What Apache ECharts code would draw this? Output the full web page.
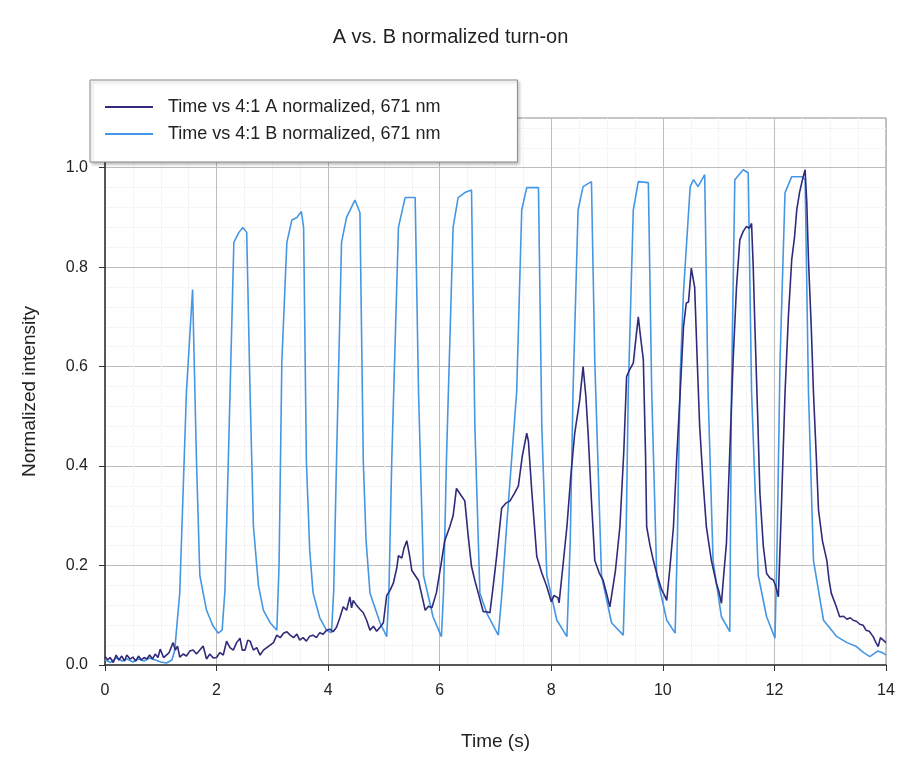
<!DOCTYPE html>
<html>
<head>
<meta charset="utf-8">
<script src="https://cdn.jsdelivr.net/npm/echarts@6/dist/echarts.min.js"></script>
<style>
html,body{margin:0;padding:0;background:#fff;}
#chart{width:901px;height:758px;}
</style>
</head>
<body>
<div id="chart"></div>
<script>
const chartTitle = "A vs. B normalized turn-on";
const seriesNames = ["Time vs 4:1 A normalized, 671 nm", "Time vs 4:1 B normalized, 671 nm"];
const xTicks = [0, 2, 4, 6, 8, 10, 12, 14];
const yTicks = [0, 0.2, 0.4, 0.6, 0.8, 1.0];

const aTime = [0.00,0.05,0.09,0.15,0.20,0.25,0.30,0.35,0.39,0.45,0.50,0.55,0.60,0.65,0.70,0.75,0.80,0.85,0.90,0.95,0.99,1.05,1.10,1.15,1.22,1.26,1.30,1.34,1.40,1.46,1.52,1.58,1.64,1.70,1.76,1.82,1.88,1.94,2.00,2.06,2.12,2.18,2.24,2.30,2.36,2.42,2.46,2.51,2.56,2.60,2.66,2.72,2.78,2.84,2.90,2.96,3.02,3.08,3.14,3.20,3.26,3.32,3.38,3.44,3.49,3.55,3.61,3.67,3.73,3.79,3.85,3.91,3.97,4.03,4.09,4.15,4.21,4.27,4.33,4.39,4.42,4.45,4.51,4.57,4.63,4.69,4.75,4.81,4.87,4.93,4.99,5.05,5.11,5.17,5.23,5.26,5.32,5.36,5.41,5.46,5.50,5.56,5.62,5.68,5.74,5.80,5.86,5.94,6.02,6.09,6.18,6.24,6.30,6.36,6.45,6.51,6.57,6.63,6.69,6.78,6.84,6.90,6.96,7.02,7.11,7.18,7.26,7.34,7.41,7.48,7.56,7.59,7.65,7.74,7.83,7.92,8.00,8.05,8.12,8.14,8.20,8.28,8.35,8.42,8.51,8.57,8.62,8.66,8.72,8.78,8.86,8.93,9.00,9.05,9.08,9.15,9.23,9.30,9.35,9.41,9.47,9.52,9.56,9.60,9.65,9.69,9.71,9.77,9.83,9.90,9.98,10.03,10.07,10.13,10.19,10.25,10.31,10.37,10.42,10.46,10.51,10.57,10.62,10.66,10.72,10.78,10.87,10.96,11.00,11.05,11.09,11.14,11.20,11.26,11.32,11.38,11.44,11.50,11.55,11.59,11.62,11.65,11.70,11.74,11.80,11.86,11.92,11.98,12.02,12.07,12.12,12.19,12.25,12.31,12.36,12.40,12.45,12.50,12.55,12.58,12.61,12.66,12.70,12.75,12.79,12.86,12.94,12.98,13.02,13.05,13.10,13.17,13.24,13.30,13.36,13.41,13.47,13.53,13.59,13.64,13.70,13.77,13.82,13.86,13.90,13.95,14.00];
const aValue = [0.017,0.010,0.015,0.005,0.020,0.010,0.018,0.008,0.020,0.012,0.016,0.008,0.018,0.010,0.015,0.012,0.020,0.012,0.022,0.015,0.032,0.015,0.020,0.025,0.045,0.030,0.038,0.016,0.022,0.018,0.028,0.030,0.022,0.030,0.038,0.012,0.022,0.014,0.015,0.025,0.020,0.048,0.035,0.030,0.045,0.054,0.030,0.030,0.050,0.048,0.030,0.035,0.020,0.030,0.035,0.040,0.045,0.060,0.055,0.064,0.067,0.060,0.055,0.062,0.050,0.055,0.048,0.058,0.060,0.055,0.065,0.062,0.070,0.072,0.067,0.076,0.095,0.117,0.110,0.137,0.115,0.130,0.120,0.112,0.105,0.090,0.070,0.078,0.068,0.076,0.085,0.140,0.150,0.165,0.195,0.220,0.215,0.235,0.250,0.220,0.190,0.180,0.170,0.140,0.110,0.118,0.115,0.145,0.200,0.250,0.278,0.300,0.355,0.345,0.330,0.260,0.198,0.170,0.145,0.107,0.107,0.105,0.160,0.218,0.315,0.325,0.330,0.345,0.360,0.420,0.466,0.450,0.350,0.218,0.185,0.158,0.127,0.140,0.135,0.125,0.190,0.278,0.380,0.466,0.533,0.600,0.540,0.466,0.330,0.210,0.185,0.170,0.140,0.117,0.120,0.190,0.278,0.430,0.580,0.595,0.607,0.660,0.700,0.660,0.614,0.420,0.278,0.240,0.210,0.180,0.151,0.140,0.130,0.200,0.278,0.420,0.547,0.680,0.728,0.730,0.798,0.760,0.600,0.480,0.370,0.278,0.210,0.164,0.150,0.124,0.180,0.245,0.430,0.614,0.760,0.855,0.872,0.882,0.878,0.888,0.800,0.680,0.500,0.345,0.240,0.184,0.175,0.171,0.160,0.137,0.300,0.547,0.700,0.815,0.860,0.915,0.950,0.975,0.996,0.930,0.815,0.680,0.547,0.420,0.312,0.250,0.210,0.170,0.144,0.140,0.120,0.097,0.098,0.092,0.095,0.090,0.088,0.082,0.080,0.070,0.068,0.057,0.045,0.037,0.055,0.050,0.045];

const bTime = [0.00,0.10,0.20,0.30,0.40,0.50,0.60,0.70,0.80,0.90,1.00,1.10,1.20,1.25,1.34,1.46,1.57,1.64,1.70,1.82,1.93,2.03,2.10,2.15,2.21,2.31,2.40,2.47,2.54,2.60,2.66,2.75,2.84,2.96,3.08,3.12,3.17,3.26,3.35,3.44,3.52,3.56,3.61,3.67,3.73,3.85,3.97,4.06,4.10,4.15,4.24,4.33,4.48,4.57,4.63,4.68,4.75,4.93,5.05,5.09,5.14,5.26,5.38,5.56,5.62,5.71,5.88,6.03,6.07,6.12,6.24,6.33,6.45,6.57,6.63,6.72,6.84,7.05,7.12,7.20,7.38,7.47,7.56,7.77,7.83,7.92,8.10,8.28,8.34,8.39,8.48,8.57,8.72,8.78,8.90,9.08,9.29,9.34,9.38,9.47,9.56,9.74,9.80,9.89,10.07,10.22,10.26,10.31,10.37,10.49,10.55,10.63,10.75,10.81,10.90,11.05,11.20,11.23,11.29,11.44,11.53,11.59,11.71,11.86,12.01,12.05,12.10,12.19,12.31,12.49,12.55,12.61,12.70,12.88,13.12,13.30,13.47,13.60,13.71,13.85,13.95,14.00];
const bValue = [0.010,0.005,0.015,0.008,0.012,0.006,0.012,0.008,0.014,0.010,0.006,0.004,0.010,0.030,0.145,0.550,0.755,0.410,0.180,0.110,0.080,0.064,0.070,0.150,0.410,0.850,0.870,0.880,0.870,0.550,0.280,0.160,0.110,0.085,0.070,0.200,0.610,0.850,0.895,0.900,0.912,0.880,0.410,0.230,0.145,0.095,0.070,0.065,0.150,0.410,0.850,0.900,0.935,0.910,0.410,0.250,0.145,0.085,0.057,0.150,0.410,0.880,0.940,0.940,0.550,0.180,0.097,0.057,0.150,0.410,0.880,0.940,0.950,0.955,0.480,0.145,0.105,0.060,0.150,0.280,0.550,0.915,0.960,0.960,0.480,0.180,0.090,0.057,0.250,0.550,0.915,0.962,0.972,0.610,0.180,0.085,0.060,0.250,0.550,0.915,0.972,0.970,0.550,0.180,0.090,0.064,0.250,0.580,0.750,0.962,0.976,0.962,0.986,0.550,0.210,0.097,0.067,0.550,0.976,0.996,0.990,0.550,0.180,0.097,0.054,0.250,0.610,0.950,0.982,0.982,0.976,0.550,0.210,0.090,0.057,0.045,0.037,0.025,0.017,0.028,0.024,0.020];

const aData = aTime.map((t, i) => [t, aValue[i]]);
const bData = bTime.map((t, i) => [t, bValue[i]]);

const FONT = '"Liberation Sans", Arial, sans-serif';
const chart = echarts.init(document.getElementById('chart'));
chart.setOption({
  backgroundColor: '#ffffff',
  animation: false,
  title: {
    text: chartTitle,
    left: 'center',
    top: 22,
    textStyle: {fontFamily: FONT, fontSize: 20, fontWeight: 'normal', color: '#222'}
  },
  legend: {
    orient: 'vertical',
    left: 90,
    top: 80,
    padding: [18, 77, 19, 15],
    itemGap: 9,
    itemWidth: 48,
    itemHeight: 2,
    icon: 'rect',
    backgroundColor: '#ffffff',
    borderColor: '#8a8a8a',
    borderWidth: 1,
    shadowColor: 'rgba(0,0,0,0.25)',
    shadowBlur: 3,
    shadowOffsetX: 2,
    shadowOffsetY: 2,
    formatter: name => '{t|' + name + '}',
    textStyle: {
      fontFamily: FONT, fontSize: 18, color: '#222',
      rich: {t: {fontFamily: FONT, fontSize: 18, color: '#222', padding: [0, 0, 0, 10], height: 18}}
    },
    data: seriesNames
  },
  grid: {
    left: 105, right: 15, top: 118, bottom: 93,
    show: true, borderColor: '#8c8c8c', borderWidth: 1
  },
  xAxis: {
    type: 'value',
    min: 0, max: 14, interval: 2,
    name: 'Time (s)',
    nameLocation: 'middle',
    nameGap: 67,
    nameTextStyle: {fontFamily: FONT, fontSize: 19, color: '#222'},
    axisLine: {show: true, onZero: false, lineStyle: {color: '#333', width: 1.5}},
    axisTick: {show: true, inside: false, length: 6, lineStyle: {color: '#333'}, customValues: xTicks},
    axisLabel: {fontFamily: FONT, fontSize: 16, color: '#222', margin: 18, customValues: xTicks},
    splitLine: {show: true, lineStyle: {color: '#bdbdbd', width: 1}},
    minorTick: {show: false, splitNumber: 4},
    minorSplitLine: {show: true, lineStyle: {color: '#ececec', width: 1, type: 'dotted'}}
  },
  yAxis: {
    type: 'value',
    min: 0, max: 1.1, interval: 0.2,
    name: 'Normalized intensity',
    nameLocation: 'middle',
    nameGap: 66,
    nameTextStyle: {fontFamily: FONT, fontSize: 19, color: '#222'},
    axisLine: {show: true, onZero: false, lineStyle: {color: '#333', width: 1.5}},
    axisTick: {show: true, inside: false, length: 6, lineStyle: {color: '#333'}, customValues: yTicks},
    axisLabel: {fontFamily: FONT, fontSize: 16, color: '#222', margin: 17,
      customValues: yTicks, formatter: v => v.toFixed(1)},
    splitLine: {show: true, lineStyle: {color: '#bdbdbd', width: 1}},
    minorTick: {show: false, splitNumber: 5},
    minorSplitLine: {show: true, lineStyle: {color: '#ececec', width: 1, type: 'dotted'}}
  },
  series: [
    {
      name: seriesNames[0], type: 'line', data: aData, z: 3,
      symbol: 'none', smooth: false,
      lineStyle: {color: '#2f2b7a', width: 1.6},
      itemStyle: {color: '#2f2b7a'}
    },
    {
      name: seriesNames[1], type: 'line', data: bData, z: 2,
      symbol: 'none', smooth: false,
      lineStyle: {color: '#4597e3', width: 1.6},
      itemStyle: {color: '#4597e3'}
    }
  ]
});
</script>
</body>
</html>
